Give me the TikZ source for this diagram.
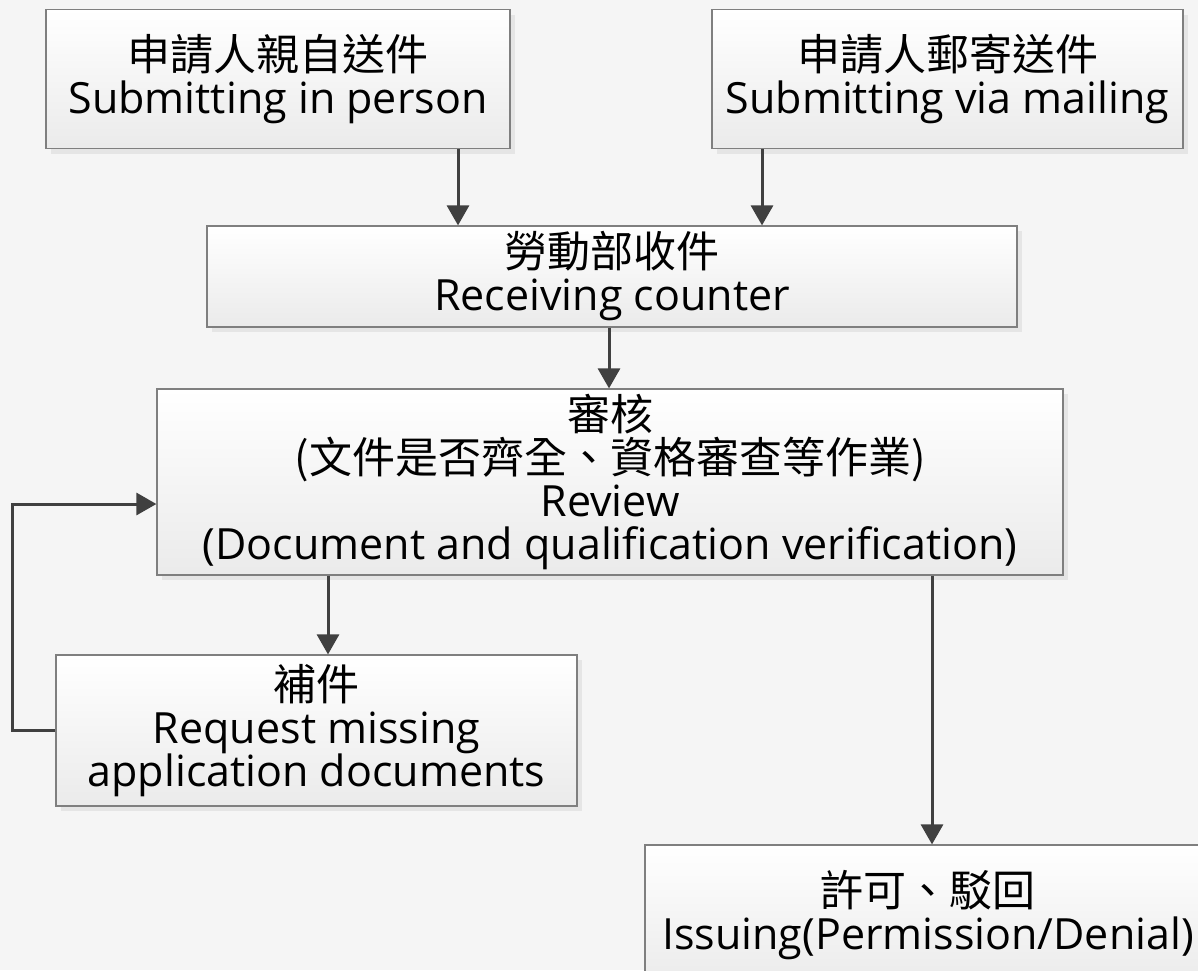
\documentclass[tikz,border=0pt]{standalone}
\usepackage{fontspec}
\setmainfont{Open Sans}
\newfontfamily\cjk{Noto Sans CJK TC}
\usetikzlibrary{positioning,arrows.meta,shadows}

\definecolor{bggray}{HTML}{F5F5F5}
\definecolor{linegray}{HTML}{404040}
\definecolor{edgegray}{HTML}{7F7F7F}

\begin{document}
\begin{tikzpicture}[x=0.5pt, y=-0.5pt,
        box/.style={rectangle, draw=edgegray, line width=0.6pt, top color=white, bottom color=black!8,
            drop shadow={shadow xshift=2.5pt, shadow yshift=-2.5pt, fill=black!10, opacity=1},
            align=center, inner sep=0pt, font=\fontsize{21.5}{21.5}\selectfont},
        flow/.style={draw=linegray, line width=1.5pt, -{Triangle[length=10pt,width=11pt]}}]
        \fill[bggray] (0,0) rectangle (1198,970);
        \clip (0,0) rectangle (1198,970);
        % boxes
        \node[box, minimum width=232pt, minimum height=69.5pt] (person) at (278,79) {{\cjk 申請人親自送件}\\Submitting in person};
        \node[box, minimum width=235.5pt, minimum height=69.5pt] (mail) at (947.5,79) {{\cjk 申請人郵寄送件}\\Submitting via mailing};
        \node[box, minimum width=405pt, minimum height=50.5pt] (recv) at (612,276.5) {{\cjk 勞動部收件}\\Receiving counter};
        \node[box, minimum width=453pt, minimum height=93pt] (review) at (610,482) {{\cjk 審核}\\{\cjk (文件是否齊全、資格審查等作業)}\\Review\\(Document and qualification verification)};
        \node[box, minimum width=260.5pt, minimum height=75.5pt] (missing) at (316.5,730.5) {{\cjk 補件}\\Request missing\\application documents};
        \node[box, minimum width=283pt, minimum height=70pt] (issue) at (928,915) {{\cjk 許可、駁回}\\Issuing(Permission/Denial)};
        % connectors
        \draw[flow] (person.south -| 458,0) -- (recv.north -| 458,0);
        \draw[flow] (mail.south -| 762,0) -- (recv.north -| 762,0);
        \draw[flow] (recv.south -| 609,0) -- (review.north -| 609,0);
        \draw[flow] (review.south -| 328,0) -- (missing.north -| 328,0);
        \draw[flow] (review.south -| 932,0) -- (issue.north -| 932,0);
        \draw[flow] (missing.west) -- ++(-43,0) |- ([yshift=-11pt]review.west);
      \end{tikzpicture}
\end{document}
